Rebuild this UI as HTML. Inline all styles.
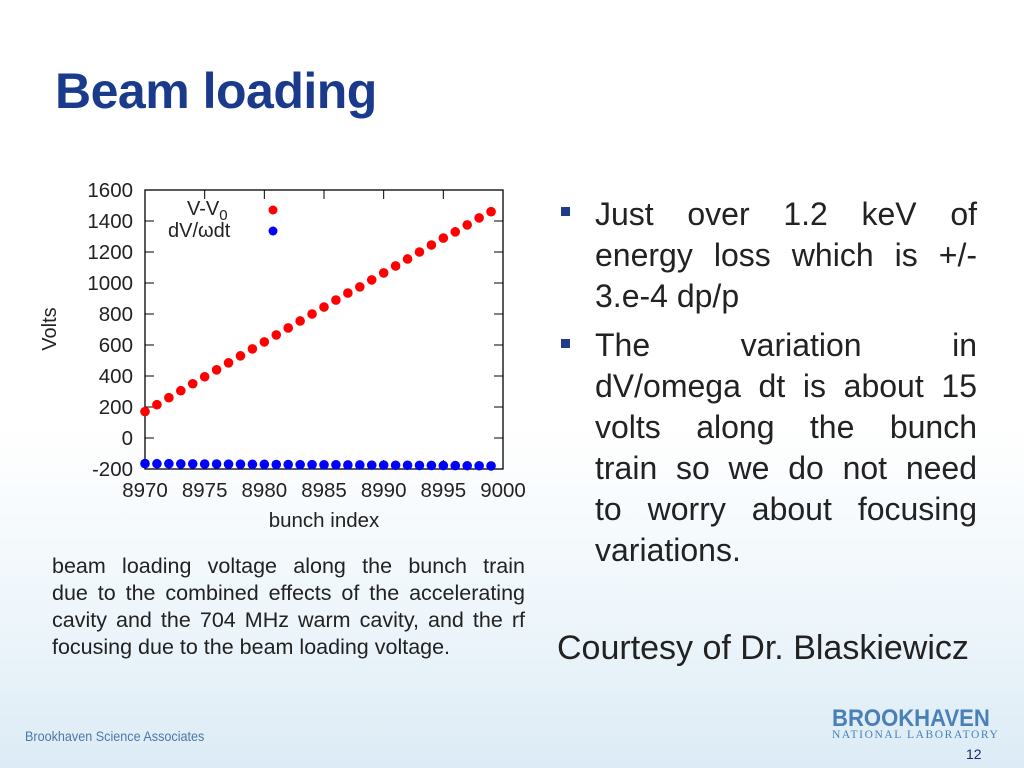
<!DOCTYPE html>
<html><head><meta charset="utf-8"><style>
body{margin:0;width:1024px;height:768px;overflow:hidden;position:relative;font-family:"Liberation Sans",Arial,sans-serif;
background:linear-gradient(180deg,#ffffff 0%,#ffffff 55%,#eef6fb 80%,#dcebf5 100%);}
.bl{position:absolute;left:595px;width:382px;font-size:32px;color:#222;line-height:41px;white-space:nowrap}
.j{text-align:justify;text-align-last:justify}
.sq{position:absolute;left:561px;width:9px;height:9px;background:#1f3b8a}
.cap{position:absolute;left:52px;width:473px;font-size:21.5px;color:#222;line-height:27px;white-space:nowrap}
</style></head><body>
<div style="position:absolute;left:55px;top:62px;font-size:50px;font-weight:bold;color:#1a3a8c;letter-spacing:-0.5px">Beam loading</div>

<svg id="chart" width="540" height="360" style="position:absolute;left:0;top:175px" viewBox="0 175 540 360"></svg>

<div class="sq" style="top:207px"></div>
<div class="bl j" style="top:194px">Just over 1.2 keV of</div>
<div class="bl j" style="top:235px">energy loss which is +/-</div>
<div class="bl" style="top:276px">3.e-4 dp/p</div>
<div class="sq" style="top:339px"></div>
<div class="bl j" style="top:325px">The variation in</div>
<div class="bl j" style="top:366px">dV/omega dt is about 15</div>
<div class="bl j" style="top:407px">volts along the bunch</div>
<div class="bl j" style="top:448px">train so we do not need</div>
<div class="bl j" style="top:489px">to worry about focusing</div>
<div class="bl" style="top:530px">variations.</div>

<div style="position:absolute;left:557px;top:629px;font-size:34px;color:#222">Courtesy of Dr. Blaskiewicz</div>

<div class="cap j" style="top:553px">beam loading voltage along the bunch train</div>
<div class="cap j" style="top:580px">due to the combined effects of the accelerating</div>
<div class="cap j" style="top:607px">cavity and the 704 MHz warm cavity, and the rf</div>
<div class="cap" style="top:634px">focusing due to the beam loading voltage.</div>

<div style="position:absolute;left:25px;top:728px;font-size:14px;color:#4a78a8;transform:scaleX(0.9);transform-origin:left">Brookhaven Science Associates</div>
<div style="position:absolute;left:832px;top:705px;font-size:24px;font-weight:bold;color:#4a80b8;transform:scaleX(0.92);transform-origin:left">BROOKHAVEN</div>
<div style="position:absolute;left:832px;top:729px;font-family:'Liberation Serif',serif;font-size:11.5px;color:#4a80b8;letter-spacing:1.6px">NATIONAL LABORATORY</div>
<div style="position:absolute;left:966px;top:746px;font-size:14px;color:#1a2a6c">12</div>

<script>
const xTicks=[8970,8975,8980,8985,8990,8995,9000];
const yTicks=[-200,0,200,400,600,800,1000,1200,1400,1600];
const bunches=[8970,8971,8972,8973,8974,8975,8976,8977,8978,8979,8980,8981,8982,8983,8984,8985,8986,8987,8988,8989,8990,8991,8992,8993,8994,8995,8996,8997,8998,8999];
const vMinusV0=[170,215,260,305,350,395,440,485,530,575,620,665,710,755,800,845,890,935,975,1020,1065,1110,1155,1200,1245,1290,1330,1375,1420,1460];
const dVdt=[-165,-166,-166,-167,-167,-168,-168,-169,-169,-170,-170,-171,-171,-172,-172,-173,-173,-174,-174,-175,-175,-176,-176,-177,-177,-178,-178,-179,-179,-180];
const NS="http://www.w3.org/2000/svg",svg=document.getElementById('chart');
const L=145,R=503,T=190,B=469;
const xs=v=>L+(v-8970)/(9000-8970)*(R-L);
const ys=v=>B-(v+200)/1800*(B-T);
function mk(t,a,p){const e=document.createElementNS(NS,t);for(const k in a)e.setAttribute(k,a[k]);(p||svg).appendChild(e);return e;}
let e=mk('rect',{x:L,y:T,width:R-L,height:B-T,fill:'#fff',stroke:'#000','stroke-width':1.3});

yTicks.forEach(v=>{const y=ys(v);
 mk('line',{x1:L,x2:L+9,y1:y,y2:y,stroke:'#000'});mk('line',{x1:R-9,x2:R,y1:y,y2:y,stroke:'#000'});
 const t=mk('text',{x:L-12,y:y+7,'text-anchor':'end','font-size':20.5,fill:'#222'});t.textContent=v;
 });
xTicks.forEach(v=>{const x=xs(v);
 mk('line',{x1:x,x2:x,y1:B,y2:B-9,stroke:'#000'});mk('line',{x1:x,x2:x,y1:T,y2:T+9,stroke:'#000'});
 const t=mk('text',{x:x,y:B+28,'text-anchor':'middle','font-size':20.5,fill:'#222'});t.textContent=v;
 });
e=mk('text',{x:324,y:527,'text-anchor':'middle','font-size':20.5,fill:'#222'});e.textContent='bunch index';

e=mk('text',{x:56,y:329,'text-anchor':'middle','font-size':20,fill:'#222',transform:'rotate(-90 56 329)'});e.textContent='Volts';

e=mk('text',{x:187,y:215,'font-size':20,fill:'#222'});e.innerHTML='V-V<tspan font-size="15" dy="5">0</tspan>';

e=mk('text',{x:168,y:237,'font-size':20,fill:'#222'});e.textContent='dV/ωdt';

e=mk('circle',{cx:273,cy:210,r:4.5,fill:'#f00'});
e=mk('circle',{cx:273,cy:231,r:4.5,fill:'#00f'});
bunches.forEach((b,i)=>{
 const c=mk('circle',{cx:xs(b),cy:ys(vMinusV0[i]),r:4.8,fill:'#f00'});
 
 
 const d=mk('circle',{cx:xs(b),cy:ys(dVdt[i]),r:4.8,fill:'#00f'});
 
 
});
</script>
</body></html>
